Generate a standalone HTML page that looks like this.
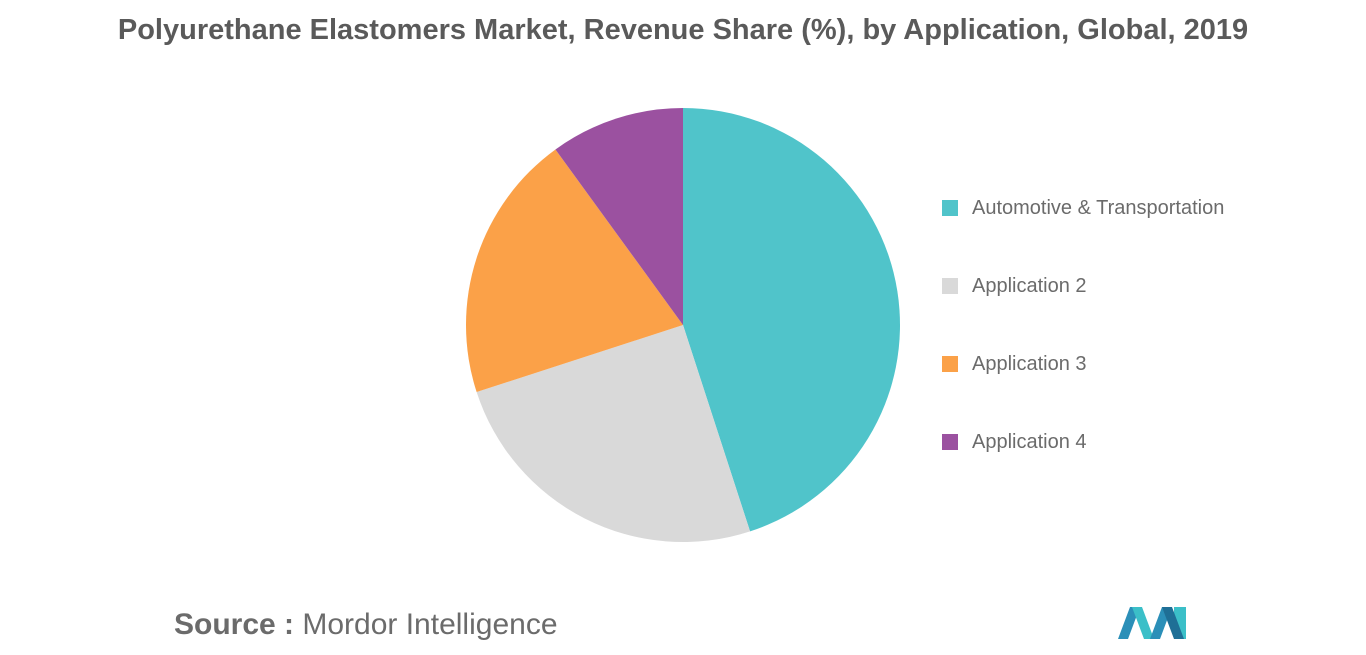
<!DOCTYPE html>
<html><head><meta charset="utf-8">
<style>
body{margin:0;width:1366px;height:655px;background:#fff;font-family:"Liberation Sans",sans-serif;overflow:hidden;position:relative}
#title{position:absolute;left:0;width:1366px;top:14px;text-align:center;font-size:29px;font-weight:bold;color:#5a5a5a}
.leg{position:absolute;left:942px;font-size:20px;color:#6b6b6b;height:20px;line-height:20px}
.leg span{display:inline-block;width:16px;height:16px;vertical-align:-2px;margin-right:14px}
#source{position:absolute;left:174px;top:608px;font-size:30px;color:#6b6b6b}
</style></head><body>
<div id="title">Polyurethane Elastomers Market, Revenue Share (%), by Application, Global, 2019</div>
<svg id="pie" width="1366" height="655" style="position:absolute;left:0;top:0"></svg>
<div id="legend"></div>
<div id="source"><b>Source :</b> Mordor Intelligence</div>
<svg width="80" height="40" style="position:absolute;left:1116px;top:603px">
<polygon points="2,36 14,4 24,4 12,36" fill="#2b8fb8"/>
<polygon points="16,4 28,36 38,36 26,4" fill="#3bbfc8"/>
<polygon points="34,36 46,4 56,4 44,36" fill="#2b8fb8"/>
<polygon points="58,4 70,4 70,36 58,36" fill="#3bbfc8"/>
<polygon points="46,4 58,36 68,36 56,4" fill="#1f6f96"/>
</svg>
<script>
const categories=["Automotive & Transportation","Application 2","Application 3","Application 4"];
const values=[45,25,20,10];
const colors=["#50c4ca","#d9d9d9","#fba148","#9b51a0"];
const cx=683,cy=325,r=217;
const svg=document.getElementById('pie');
const total=values.reduce((a,b)=>a+b,0);
let a0=0;
function pt(a){return [cx+r*Math.sin(a),cy-r*Math.cos(a)];}
values.forEach((v,i)=>{
  const a1=a0+v/total*2*Math.PI;
  const p0=pt(a0),p1=pt(a1);
  const large=(a1-a0)>Math.PI?1:0;
  const p=document.createElementNS('http://www.w3.org/2000/svg','path');
  p.setAttribute('d',`M${cx},${cy}L${p0[0]},${p0[1]}A${r},${r} 0 ${large} 1 ${p1[0]},${p1[1]}Z`);
  p.setAttribute('fill',colors[i]);
  
  
  svg.appendChild(p);
  a0=a1;
});
const leg=document.getElementById('legend');
categories.forEach((c,i)=>{
  const d=document.createElement('div');
  d.className='leg';
  d.style.top=(198+i*78)+'px';
  
  
  const s=document.createElement('span');
  s.style.background=colors[i];
  d.appendChild(s);
  d.appendChild(document.createTextNode(c));
  leg.appendChild(d);
});
</script>
</body></html>
